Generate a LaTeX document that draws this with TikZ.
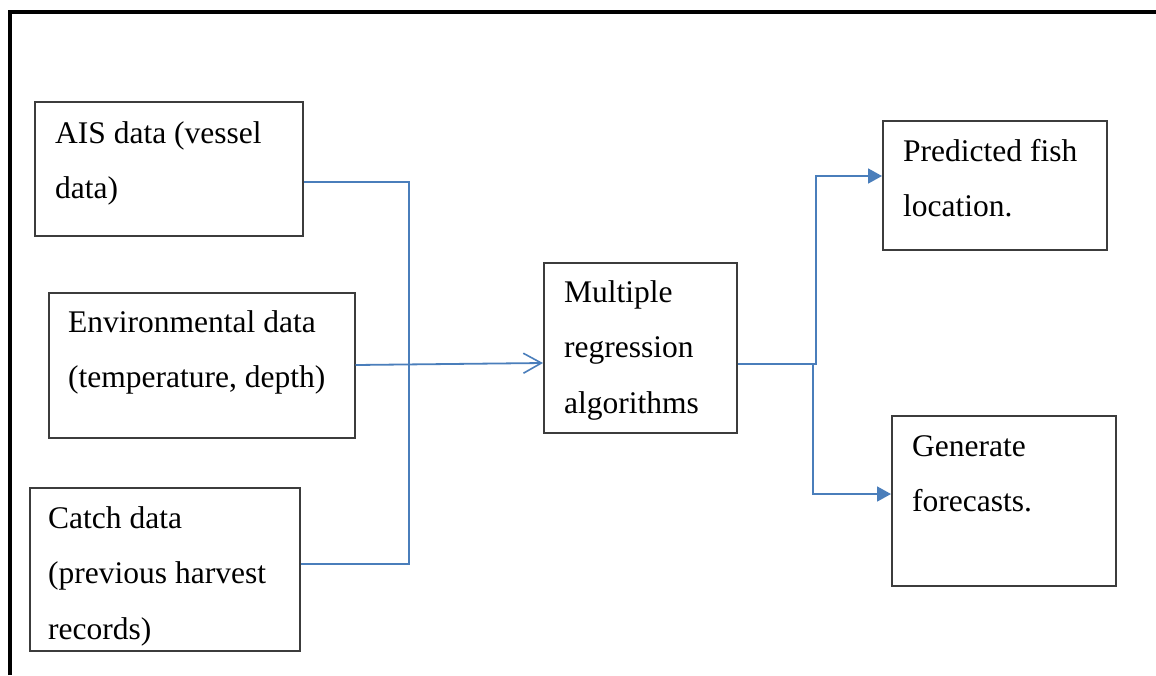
\documentclass[tikz,border=0pt]{standalone}
\usepackage{fontspec}
\setmainfont{Liberation Serif}
\usetikzlibrary{arrows.meta}
\definecolor{flowblue}{HTML}{4A7EBB}
\definecolor{boxgrey}{HTML}{3C3C3C}
\begin{document}
\begin{tikzpicture}[x=1pt,y=-1pt,
  box/.style={draw=boxgrey, line width=1.5pt, inner sep=0pt, anchor=north west},
  % the base anchor of a multi-line node sits on its last line
  txt/.style={inner sep=0pt, anchor=base west, align=left,
              font=\fontsize{31.5}{55.5}\selectfont},
  flow/.style={draw=flowblue, line width=1.8pt},
  tip/.style={-{Triangle[length=14pt,width=15pt]}},
  vtip/.style={-{Straight Barb[length=18pt,width=20pt,line width=1.6pt]}}]
\useasboundingbox (0,0) rectangle (1156,675);
\fill[white] (0,0) rectangle (1156,675);

% page frame
\draw[line width=4pt] (10,675) -- (10,12) -- (1156,12);

% boxes
\node[box, minimum width=268pt, minimum height=134pt] (ais) at (34,101) {};
\node[box, minimum width=306pt, minimum height=145pt] (env) at (48,292) {};
\node[box, minimum width=270pt, minimum height=163pt] (catch) at (29,487) {};
\node[box, minimum width=193pt, minimum height=170pt] (multi) at (543,262) {};
\node[box, minimum width=224pt, minimum height=129pt] (pred) at (882,120) {};
\node[box, minimum width=224pt, minimum height=170pt] (gen) at (891,415) {};

% box texts
\node[txt] (aist) at ([shift={(21,97.5)}]ais.north west) {AIS data (vessel\\data)};
\node[txt] (envt) at ([shift={(20,95.5)}]env.north west) {Environmental data\\(temperature, depth)};
\node[txt] (catcht) at ([shift={(19,152)}]catch.north west) {Catch data\\(previous harvest\\records)};
\node[txt] (multit) at ([shift={(21,151)}]multi.north west) {Multiple\\regression\\algorithms};
\node[txt] (predt) at ([shift={(21,96.5)}]pred.north west) {Predicted fish\\location.};
\node[txt] (gent) at ([shift={(21,96.5)}]gen.north west) {Generate\\forecasts.};

% junction points
\coordinate (jin) at (409,182);
\coordinate (jout) at (816,364);
\coordinate (jdown) at (813,364);

% inputs
\draw[flow] (ais.east |- jin) -- (jin) -- (jin |- 0,564) -- (catch.east |- 0,564);
\draw[flow, vtip] (env.east |- 0,365) -- (multi.west |- 0,363);

% outputs
\draw[flow, tip] (multi.east |- jout) -- (jout) -- (jout |- 0,176) -- (pred.west |- 0,176);
\draw[flow, tip] (jdown) -- (jdown |- 0,494) -- (gen.west |- 0,494);
\end{tikzpicture}
\end{document}
